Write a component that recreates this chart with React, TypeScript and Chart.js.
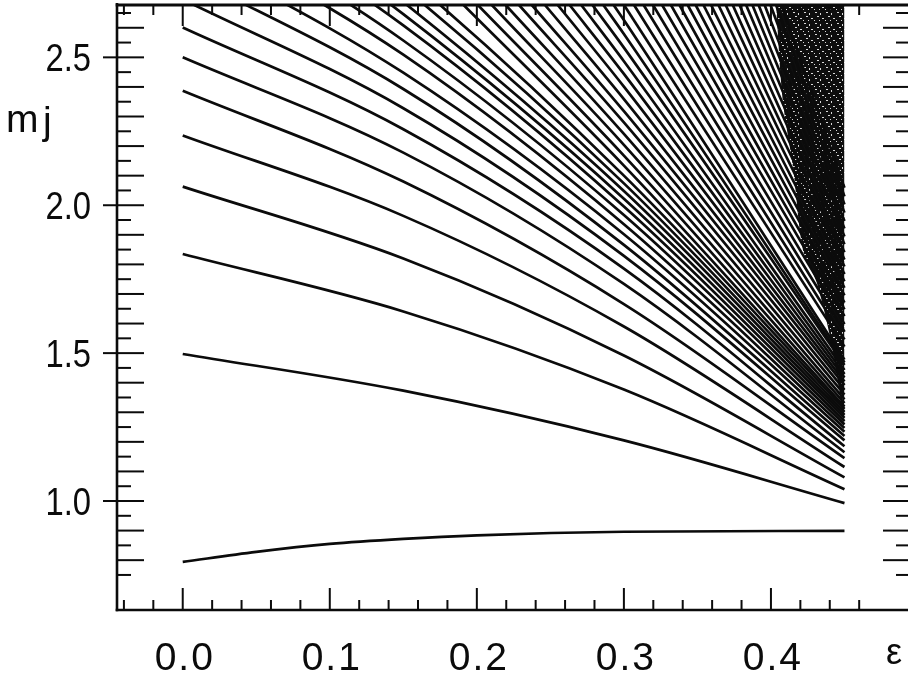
import React, { useEffect, useRef } from "react";
import { Chart, registerables } from "chart.js";

Chart.register(...registerables);

// Axis ranges (ε horizontally, m vertically)
const X_MIN = -0.0447;
const X_MAX = 0.4932;
const Y_MIN = 0.6315;
const Y_MAX = 2.677;

const X_TICK_LABELS = [0, 0.1, 0.2, 0.3, 0.4];
const Y_TICK_LABELS = [1.0, 1.5, 2.0, 2.5];

// Lowest level
const LOW_EPS = [0, 0.05, 0.1, 0.15, 0.2, 0.3, 0.45];
const LOW_M = [0.794, 0.828, 0.855, 0.872, 0.884, 0.896, 0.899];

// Levels read on a common ε grid (values above the frame are clipped)
const GRID_EPS = [0, 0.15, 0.3, 0.45];
const LEVELS_A = [
  [1.497, 1.373, 1.205, 0.993],
  [1.835, 1.641, 1.377, 1.04],
  [2.063, 1.82, 1.492, 1.08],
  [2.236, 1.964, 1.59, 1.115],
  [2.387, 2.08, 1.666, 1.145],
  [2.5, 2.178, 1.734, 1.165],
  [2.601, 2.257, 1.786, 1.185],
  [2.696, 2.328, 1.829, 1.205],
  [2.786, 2.393, 1.866, 1.22],
  [2.871, 2.448, 1.902, 1.234],
  [2.951, 2.509, 1.936, 1.247],
  [3.027, 2.557, 1.967, 1.259],
  [3.1, 2.608, 1.996, 1.27],
  [3.17, 2.646, 2.022, 1.281],
  [3.237, 2.687, 2.048, 1.291],
  [3.301, 2.737, 2.074, 1.301],
  [3.363, 2.784, 2.1, 1.311],
];

// Levels entering through the upper frame: entry ε, m at ε=0.3, m at ε=0.45
const LEVELS_B_ENTRY = [0.191, 0.2007, 0.2102, 0.2196, 0.2287, 0.2374, 0.2463, 0.255, 0.2631, 0.271, 0.2786, 0.286, 0.293];
const LEVELS_B_M30 = [2.134, 2.168, 2.204, 2.241, 2.28, 2.318, 2.359, 2.401, 2.444, 2.487, 2.533, 2.579, 2.626];
const LEVELS_B_END = [1.319, 1.331, 1.344, 1.36, 1.376, 1.392, 1.404, 1.417, 1.429, 1.443, 1.46, 1.468, 1.478];

// Steep levels near the dense region: entry ε, m at ε=0.45
const LEVELS_C_ENTRY = [0.3001, 0.3069, 0.3134, 0.3198, 0.326, 0.332, 0.3378, 0.3434, 0.3488, 0.3541, 0.3593, 0.3643, 0.3692, 0.374, 0.3786, 0.3831, 0.3874, 0.3916, 0.3957, 0.3997, 0.4035, 0.4071];
const LEVELS_C_END = [1.522, 1.546, 1.572, 1.598, 1.625, 1.648, 1.671, 1.695, 1.721, 1.743, 1.767, 1.793, 1.816, 1.841, 1.868, 1.894, 1.921, 1.947, 1.975, 2.003, 2.03, 2.059];

// Left boundary of the dense (irregular) region, filled up to the frame
const CHAOS_EPS = [0.4035, 0.408, 0.415, 0.4218, 0.4313, 0.442, 0.45];
const CHAOS_M = [2.677, 2.355, 2.129, 1.848, 1.736, 1.51, 1.255];

const END_EPS = 0.45;
const MID_EPS = 0.3;

const INK = "#0b0b0b";

function makeSpeckle(): CanvasPattern | string {
  const tile = document.createElement("canvas");
  tile.width = 11;
  tile.height = 11;
  const c = tile.getContext("2d");
  if (!c) return "#222";
  c.fillStyle = "#0e0e0e";
  c.fillRect(0, 0, 11, 11);
  c.fillStyle = "#d8d8d8";
  const specks = [[1, 1, 2, 1], [6, 2, 1, 2], [3, 5, 2, 1], [8, 7, 2, 1], [0, 9, 1, 1], [5, 9, 1, 1]];
  specks.forEach(([sx, sy, w, h]) => c.fillRect(sx, sy, w, h));
  const p = c.createPattern(tile, "repeat");
  return p || "#222";
}

const axesPlugin = {
  id: "frameAxes",
  beforeDraw(chart: any) {
    const { ctx, width, height } = chart;
    ctx.save();
    ctx.fillStyle = "#ffffff";
    ctx.fillRect(0, 0, width, height);
    ctx.restore();
  },
  afterDraw(chart: any) {
    const { ctx, chartArea: a, scales } = chart;
    const xs = scales.x;
    const ys = scales.y;
    const seg = (x1: number, y1: number, x2: number, y2: number) => {
      ctx.beginPath();
      ctx.moveTo(x1, y1);
      ctx.lineTo(x2, y2);
      ctx.stroke();
    };
    ctx.save();
    ctx.strokeStyle = INK;
    ctx.lineCap = "butt";

    // frame
    ctx.lineWidth = 2.6;
    seg(a.left, a.top - 2, a.left, a.bottom + 1.3);
    seg(a.left - 1.3, a.bottom, a.right, a.bottom);
    ctx.lineWidth = 3;
    seg(a.left - 1.3, a.top, a.right, a.top);

    // vertical-axis ticks (every 0.05, long at 0.1)
    ctx.lineWidth = 2;
    for (let k = 15; k <= 53; k++) {
      const yy = ys.getPixelForValue(k * 0.05);
      const long = k % 2 === 0;
      seg(a.left, yy, a.left + (long ? 27 : 14), yy);
      seg(a.right + 2, yy, a.right + 2 - (long ? 27 : 14), yy);
    }
    Y_TICK_LABELS.forEach((v) => {
      const yy = ys.getPixelForValue(v);
      seg(a.left - 14, yy, a.left, yy);
    });

    // horizontal-axis ticks (every 0.02, long at 0.1)
    for (let k = -2; k <= 23; k++) {
      const xx = xs.getPixelForValue(k * 0.02);
      const long = k % 5 === 0;
      seg(xx, a.bottom, xx, a.bottom - (long ? 22 : 10));
      seg(xx, a.top, xx, a.top + (long ? 21 : 10));
    }

    // labels
    ctx.fillStyle = INK;
    ctx.textBaseline = "alphabetic";
    ctx.font = '39px "Liberation Sans", Arial, sans-serif';
    ctx.textAlign = "right";
    Y_TICK_LABELS.forEach((v) => {
      ctx.save();
      ctx.translate(a.left - 26, ys.getPixelForValue(v) + 14);
      ctx.scale(0.84, 1);
      ctx.fillText(v.toFixed(1), 0, 0);
      ctx.restore();
    });
    ctx.textAlign = "center";
    try {
      (ctx as any).letterSpacing = "2px";
    } catch (e) {
      /* ignore */
    }
    X_TICK_LABELS.forEach((v) => {
      ctx.fillText(v.toFixed(1), xs.getPixelForValue(v) + 2, 670);
    });
    try {
      (ctx as any).letterSpacing = "0px";
    } catch (e) {
      /* ignore */
    }
    ctx.font = '36px "Liberation Sans", Arial, sans-serif';
    ctx.fillText("ε", 894, 664);
    ctx.textAlign = "left";
    ctx.font = '39px "Liberation Sans", Arial, sans-serif';
    ctx.fillText("m", 6, 132);
    ctx.fillText("j", 43, 134);
    ctx.restore();
  },
};

export default function App() {
  const ref = useRef<HTMLCanvasElement | null>(null);

  useEffect(() => {
    if (!ref.current) return;
    const lineStyle = {
      borderColor: INK,
      borderWidth: 2.7,
      pointRadius: 0,
      fill: false,
      cubicInterpolationMode: "monotone" as const,
      clip: 0,
    };
    const datasets: any[] = [];
    datasets.push({
      ...lineStyle,
      data: LOW_EPS.map((e, i) => ({ x: e, y: LOW_M[i] })),
    });
    LEVELS_A.forEach((row) => {
      datasets.push({
        ...lineStyle,
        data: GRID_EPS.map((e, i) => ({ x: e, y: row[i] })),
      });
    });
    LEVELS_B_ENTRY.forEach((e0, i) => {
      datasets.push({
        ...lineStyle,
        data: [
          { x: e0, y: Y_MAX },
          { x: MID_EPS, y: LEVELS_B_M30[i] },
          { x: END_EPS, y: LEVELS_B_END[i] },
        ],
      });
    });
    LEVELS_C_ENTRY.forEach((e0, i) => {
      datasets.push({
        ...lineStyle,
        data: [
          { x: e0, y: Y_MAX },
          { x: END_EPS, y: LEVELS_C_END[i] },
        ],
      });
    });
    datasets.push({
      data: CHAOS_EPS.map((e, i) => ({ x: e, y: CHAOS_M[i] })),
      borderWidth: 0,
      pointRadius: 0,
      fill: "end",
      backgroundColor: makeSpeckle(),
      tension: 0.3,
      clip: 0,
    });

    const chart = new Chart(ref.current, {
      type: "line",
      data: { datasets },
      options: {
        responsive: false,
        animation: false,
        events: [],
        layout: { padding: { left: 117, top: 5, right: 0, bottom: 68 } },
        scales: {
          x: { type: "linear", min: X_MIN, max: X_MAX, display: false },
          y: { type: "linear", min: Y_MIN, max: Y_MAX, display: false },
        },
        plugins: { legend: { display: false }, tooltip: { enabled: false } },
      },
      plugins: [axesPlugin],
    } as any);
    return () => chart.destroy();
  }, []);

  return (
    <div style={{ position: "absolute", left: 0, top: 0, width: 908, height: 678, background: "#fff" }}>
      <canvas ref={ref} width={908} height={678} style={{ display: "block" }} />
    </div>
  );
}
